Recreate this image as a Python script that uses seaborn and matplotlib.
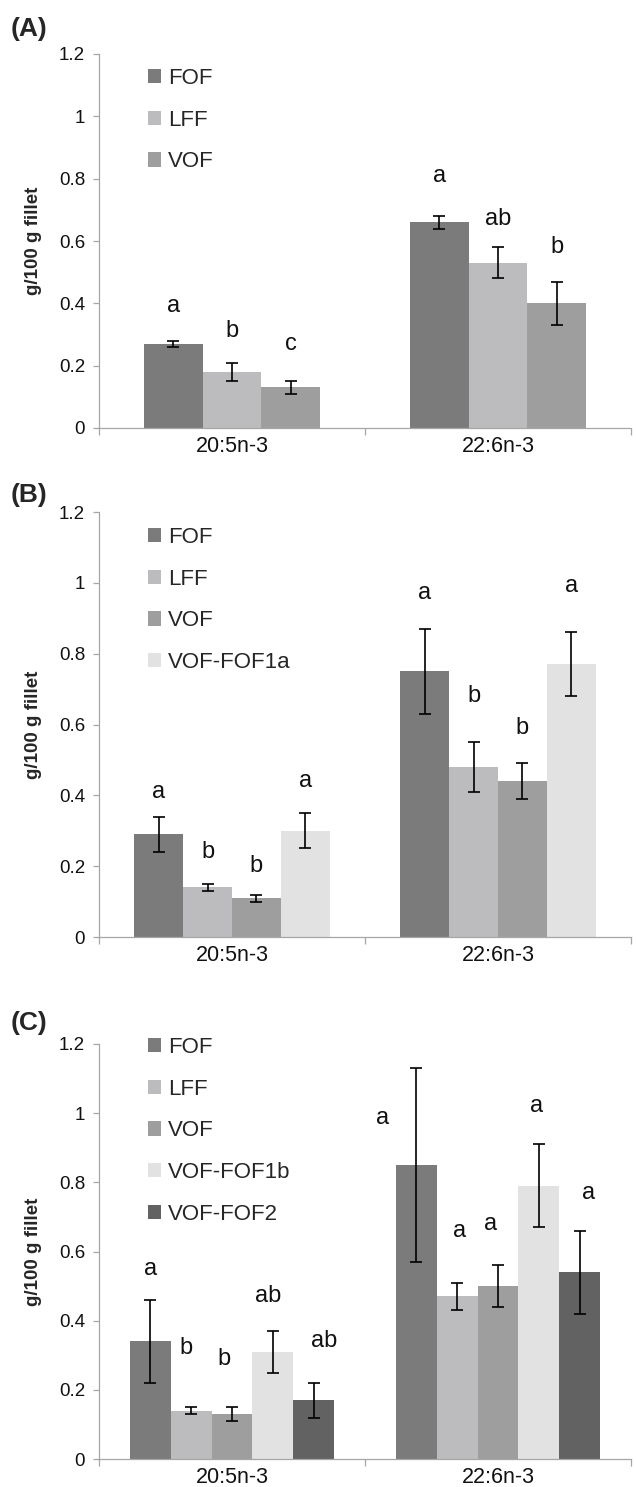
import numpy as np
import pandas as pd
import seaborn as sns
import matplotlib.pyplot as plt

fatty_acids = ["20:5n-3", "22:6n-3"]

# panel A
a_diets = ["FOF", "LFF", "VOF"]
a_epa = [0.27, 0.18, 0.13]
a_dha = [0.66, 0.53, 0.40]
a_epa_err = [0.01, 0.03, 0.02]
a_dha_err = [0.02, 0.05, 0.07]
a_epa_sig = ["a", "b", "c"]
a_dha_sig = ["a", "ab", "b"]
a_epa_lab = [0.39, 0.31, 0.27]
a_dha_lab = [0.81, 0.67, 0.58]

# panel B
b_diets = ["FOF", "LFF", "VOF", "VOF-FOF1a"]
b_epa = [0.29, 0.14, 0.11, 0.30]
b_dha = [0.75, 0.48, 0.44, 0.77]
b_epa_err = [0.05, 0.01, 0.01, 0.05]
b_dha_err = [0.12, 0.07, 0.05, 0.09]
b_epa_sig = ["a", "b", "b", "a"]
b_dha_sig = ["a", "b", "b", "a"]
b_epa_lab = [0.41, 0.24, 0.20, 0.44]
b_dha_lab = [0.97, 0.68, 0.59, 0.99]

# panel C
c_diets = ["FOF", "LFF", "VOF", "VOF-FOF1b", "VOF-FOF2"]
c_epa = [0.34, 0.14, 0.13, 0.31, 0.17]
c_dha = [0.85, 0.47, 0.50, 0.79, 0.54]
c_epa_err = [0.12, 0.01, 0.02, 0.06, 0.05]
c_dha_err = [0.28, 0.04, 0.06, 0.12, 0.12]
c_epa_sig = ["a", "b", "b", "ab", "ab"]
c_dha_sig = ["a", "a", "a", "a", "a"]
c_epa_lab = [0.55, 0.32, 0.29, 0.47, 0.34]
c_dha_lab = [0.985, 0.66, 0.68, 1.02, 0.77]

colors = {"FOF": "#7b7b7b", "LFF": "#bcbcbe", "VOF": "#9e9e9e",
          "VOF-FOF1a": "#e2e2e2", "VOF-FOF1b": "#e2e2e2", "VOF-FOF2": "#626262"}

sns.set_theme(style="white")
plt.rcParams["font.family"] = ["Liberation Sans", "DejaVu Sans"]

fig = plt.figure(figsize=(6.36, 14.87), dpi=100)
H = 1487.0
W = 636.0


def draw_panel(rect, tag, tag_y, leg_top, diets, epa, dha, epa_err, dha_err,
               epa_sig, dha_sig, epa_lab, dha_lab, width, shift=None):
    ax = fig.add_axes(rect)
    df = pd.DataFrame({
        "fa": np.repeat(fatty_acids, len(diets)),
        "diet": diets * 2,
        "value": epa + dha,
    })
    sns.barplot(data=df, x="fa", y="value", hue="diet", hue_order=diets,
                palette=colors, width=width, errorbar=None, saturation=1,
                linewidth=0, ax=ax)

    errs = [epa_err, dha_err]
    sigs = [epa_sig, dha_sig]
    labs = [epa_lab, dha_lab]
    bar_groups = list(ax.containers)
    for i, cont in enumerate(bar_groups):
        for j, bar in enumerate(cont):
            xc = bar.get_x() + bar.get_width() / 2
            ax.errorbar(xc, bar.get_height(), yerr=errs[j][i], fmt="none",
                        ecolor="black", elinewidth=1.2, capsize=4.5,
                        capthick=1.2)
            dx = 0
            if shift is not None:
                dx = shift[j][i] * bar.get_width()
            ax.text(xc + dx, labs[j][i], sigs[j][i], ha="center",
                    va="center", fontsize=17, color="#111111")

    ax.set_ylim(0, 1.2)
    ax.set_xlim(-0.5, 1.5)
    ax.set_yticks([0, 0.2, 0.4, 0.6, 0.8, 1.0, 1.2])
    ax.set_yticklabels(["0", "0.2", "0.4", "0.6", "0.8", "1", "1.2"])
    ax.set_xticks([0, 1])
    ax.set_xticklabels(fatty_acids)
    ax.set_xticks([-0.5, 0.5, 1.5], minor=True)
    ax.tick_params(axis="x", which="major", length=0, pad=6,
                   labelsize=15.5, labelcolor="#111111")
    ax.tick_params(axis="x", which="minor", length=5, width=0.9,
                   color="#a6a6a6", direction="out", bottom=True)
    ax.tick_params(axis="y", length=4, width=0.9, color="#a6a6a6",
                   direction="out", left=True, pad=6, labelsize=13.5,
                   labelcolor="#111111")
    for s in ["top", "right"]:
        ax.spines[s].set_visible(False)
    for s in ["left", "bottom"]:
        ax.spines[s].set_color("#a6a6a6")
        ax.spines[s].set_linewidth(0.9)

    ax.set_xlabel("")
    ax.set_ylabel("g/100 g fillet", fontsize=13.5, fontweight="bold")
    ax.yaxis.set_label_coords(-0.108, 0.5)

    handles, labels = ax.get_legend_handles_labels()
    ax.legend(handles, labels, loc="upper left",
              bbox_to_anchor=(148 / W, 1 - leg_top / H),
              bbox_transform=fig.transFigure, frameon=False, fontsize=16,
              handlelength=0.6, handleheight=0.6, handletextpad=0.3,
              labelspacing=0.93, borderpad=0, borderaxespad=0)

    fig.text(11 / W, 1 - tag_y / H, tag, fontsize=19, fontweight="bold",
             ha="left", va="center")
    return ax


def rect(top, bottom):
    return [99 / W, 1 - bottom / H, 532 / W, (bottom - top) / H]


draw_panel(rect(54, 428), "(A)", 29, 68, a_diets, a_epa, a_dha,
           a_epa_err, a_dha_err, a_epa_sig, a_dha_sig, a_epa_lab, a_dha_lab,
           0.66)
draw_panel(rect(512, 937), "(B)", 495, 527, b_diets, b_epa, b_dha,
           b_epa_err, b_dha_err, b_epa_sig, b_dha_sig, b_epa_lab, b_dha_lab,
           0.735)
draw_panel(rect(1044, 1459), "(C)", 1023, 1037, c_diets, c_epa, c_dha,
           c_epa_err, c_dha_err, c_epa_sig, c_dha_sig, c_epa_lab, c_dha_lab,
           0.77, shift=[[0, -0.12, -0.2, -0.13, 0.24],
                        [-0.82, 0.05, -0.17, -0.06, 0.21]])

fig.savefig("out.png", dpi=100)
